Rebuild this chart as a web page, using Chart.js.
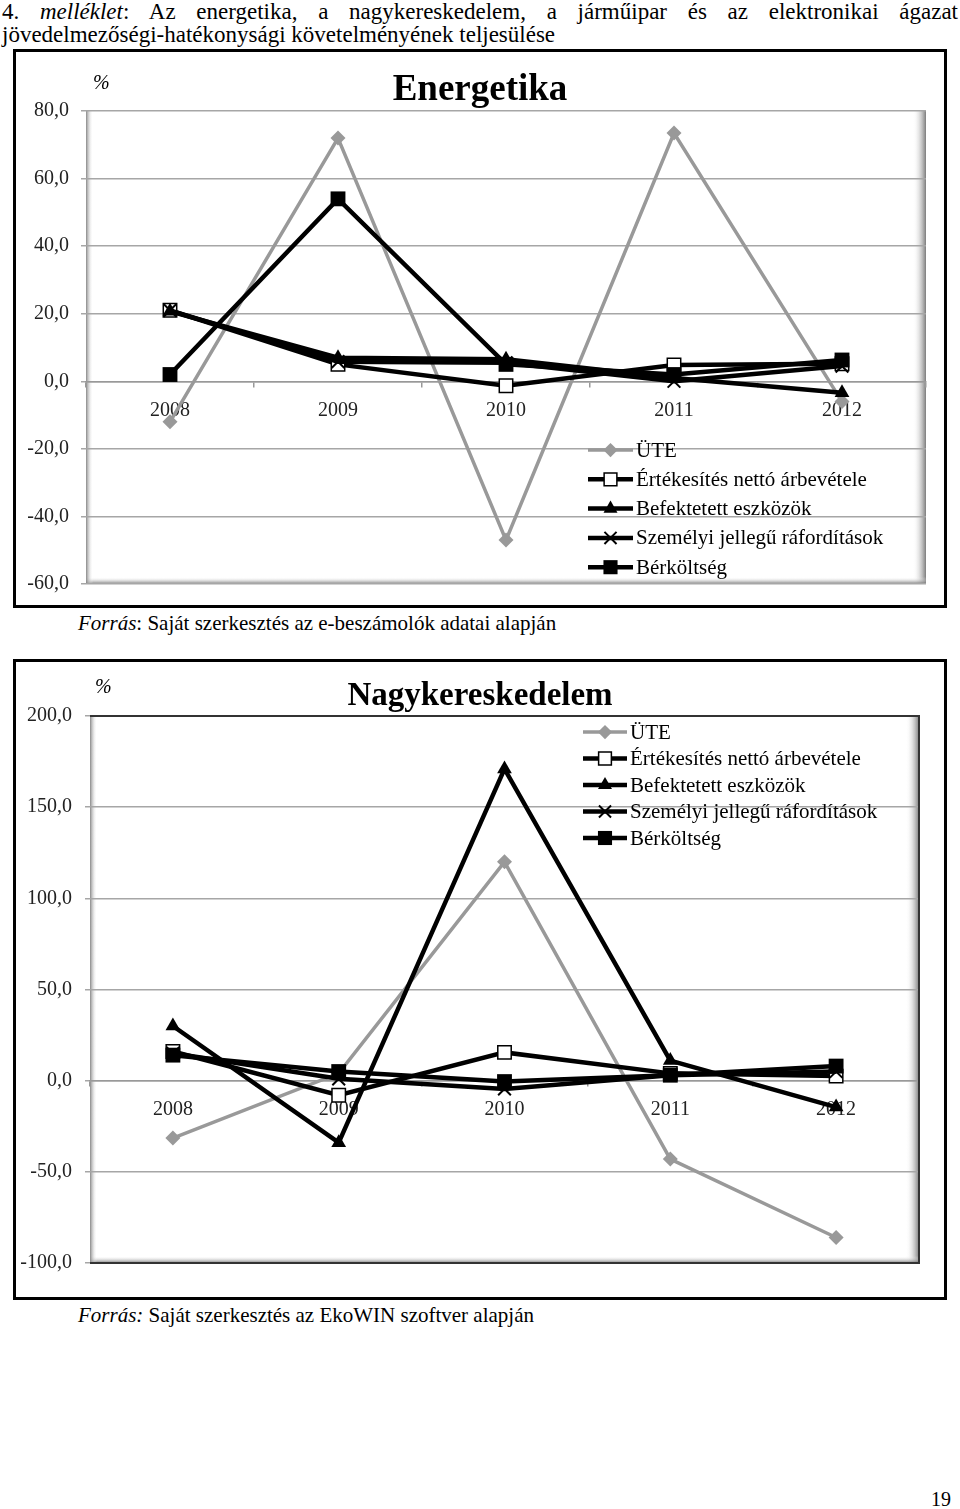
<!DOCTYPE html>
<html><head><meta charset="utf-8">
<script src="https://cdn.jsdelivr.net/npm/chart.js@4/dist/chart.umd.min.js"></script>
<style>
html,body{margin:0;padding:0;background:#fff;}
body{width:960px;height:1509px;position:relative;overflow:hidden;font-family:'Liberation Serif','Times New Roman',serif;color:#000;}
.abs{position:absolute;white-space:nowrap;}
.box{position:absolute;border:3px solid #000;box-sizing:border-box;pointer-events:none;}
canvas{position:absolute;}
</style></head><body>
<div class="abs" style="left:2px;top:0;width:956px;font-size:23px;line-height:23px;text-align:justify;text-align-last:justify;white-space:normal">4. <i>melléklet</i>: Az energetika, a nagykereskedelem, a járműipar és az elektronikai ágazat</div>
<div class="abs" style="left:2px;top:23px;font-size:23px;line-height:23px">jövedelmezőségi-hatékonysági követelményének teljesülése</div>

<canvas id="c1" width="934" height="559" style="left:13px;top:49px;width:934px;height:559px"></canvas>
<div class="box" style="left:13px;top:49px;width:934px;height:559px"></div>
<div class="abs" style="left:0;width:960px;text-align:center;top:69px;font-size:37px;line-height:37px;font-weight:bold">Energetika</div>
<div class="abs" style="left:93px;top:72px;font-size:20px;line-height:20px;font-style:italic">%</div>
<div class="abs" style="left:78px;top:612px;font-size:21px;line-height:22px"><i>Forrás</i>: Saját szerkesztés az e-beszámolók adatai alapján</div>

<canvas id="c2" width="934" height="641" style="left:13px;top:659px;width:934px;height:641px"></canvas>
<div class="box" style="left:13px;top:659px;width:934px;height:641px"></div>
<div class="abs" style="left:0;width:960px;text-align:center;top:678px;font-size:33px;line-height:33px;font-weight:bold">Nagykereskedelem</div>
<div class="abs" style="left:95px;top:676px;font-size:20px;line-height:20px;font-style:italic">%</div>
<div class="abs" style="left:78px;top:1304px;font-size:21px;line-height:22px"><i>Forrás:</i> Saját szerkesztés az EkoWIN szoftver alapján</div>

<div class="abs" style="left:931px;top:1489px;font-size:20px;line-height:20px">19</div>

<script>
// ---- data ----
const years = ['2008', '2009', '2010', '2011', '2012'];
const seriesNames = ['ÜTE', 'Értékesítés nettó árbevétele', 'Befektetett eszközök', 'Személyi jellegű ráfordítások', 'Bérköltség'];

const energUTE          = [-12, 72, -47, 73.5, -6];
const energErtekesites  = [21, 5, -1.3, 4.8, 5.2];
const energBefektetett  = [20.7, 7, 6.5, 1, -3.4];
const energSzemelyi     = [21, 5.8, 5.5, 0, 4.5];
const energBerkoltseg   = [2, 54, 5, 2, 6.3];
const energYTicks       = [-60, -40, -20, 0, 20, 40, 60, 80];

const nagyUTE           = [-31.5, 4, 120, -43, -86];
const nagyErtekesites   = [16, -8, 15.5, 4, 2.5];
const nagyBefektetett   = [30, -34, 171, 11, -14.5];
const nagySzemelyi      = [15, 1, -4.5, 3, 5];
const nagyBerkoltseg    = [14, 5, -0.5, 3, 8];
const nagyYTicks        = [-100, -50, 0, 50, 100, 150, 200];

// ---- helpers ----
const FONT = "'Liberation Serif','Times New Roman',serif";
Chart.defaults.font.family = FONT;

function fmt(v){ return Number(v).toFixed(1).replace('.', ','); }

function drawMarker(ctx, style, x, y, r, fill, stroke, bw){
  ctx.save();
  ctx.fillStyle = fill; ctx.strokeStyle = stroke; ctx.lineWidth = bw;
  ctx.beginPath();
  if (style === 'rect') {
    const s = r * Math.SQRT1_2;
    ctx.rect(x - s, y - s, 2 * s, 2 * s);
    ctx.fill(); if (bw) ctx.stroke();
  } else if (style === 'rectRot') {
    ctx.moveTo(x - r, y); ctx.lineTo(x, y - r); ctx.lineTo(x + r, y); ctx.lineTo(x, y + r); ctx.closePath();
    ctx.fill(); if (bw) ctx.stroke();
  } else if (style === 'triangle') {
    let rad = 0;
    ctx.moveTo(x + Math.sin(rad) * r, y - Math.cos(rad) * r);
    rad += 2 * Math.PI / 3;
    ctx.lineTo(x + Math.sin(rad) * r, y - Math.cos(rad) * r);
    rad += 2 * Math.PI / 3;
    ctx.lineTo(x + Math.sin(rad) * r, y - Math.cos(rad) * r);
    ctx.closePath();
    ctx.fill(); if (bw) ctx.stroke();
  } else if (style === 'crossRot') {
    const s = r * Math.SQRT1_2;
    ctx.moveTo(x - s, y - s); ctx.lineTo(x + s, y + s);
    ctx.moveTo(x + s, y - s); ctx.lineTo(x - s, y + s);
    ctx.stroke();
  }
  ctx.restore();
}

const wallPlugin = {
  id: 'wall',
  beforeDraw(chart, args, o){
    const {ctx, chartArea: a} = chart;
    ctx.save();
    let g = ctx.createLinearGradient(a.right - 13, 0, a.right, 0);
    g.addColorStop(0, 'rgba(255,255,255,0)');
    g.addColorStop(1, 'rgba(110,110,110,0.9)');
    ctx.fillStyle = g; ctx.fillRect(a.right - 13, a.top, 13, a.bottom - a.top);
    g = ctx.createLinearGradient(0, a.bottom - 7, 0, a.bottom);
    g.addColorStop(0, 'rgba(255,255,255,0)');
    g.addColorStop(1, 'rgba(110,110,110,0.9)');
    ctx.fillStyle = g; ctx.fillRect(a.left, a.bottom - 7, a.right - a.left, 7);
    g = ctx.createLinearGradient(a.left, 0, a.left + 7, 0);
    g.addColorStop(0, 'rgba(130,130,130,0.95)');
    g.addColorStop(1, 'rgba(255,255,255,0)');
    ctx.fillStyle = g; ctx.fillRect(a.left, a.top, 7, a.bottom - a.top);
    ctx.restore();
  },
  beforeDatasetsDraw(chart, args, o){
    if (!o.frame) return;
    const {ctx, chartArea: a} = chart;
    ctx.save();
    ctx.strokeStyle = o.frame; ctx.lineWidth = 2;
    ctx.beginPath();
    ctx.moveTo(a.left, a.top); ctx.lineTo(a.right, a.top); ctx.lineTo(a.right, a.bottom); ctx.lineTo(a.left, a.bottom);
    ctx.stroke();
    ctx.restore();
  }
};

const legendPlugin = {
  id: 'customLegend',
  afterDraw(chart, args, o){
    const ctx = chart.ctx;
    chart.data.datasets.forEach((ds, i) => {
      const y = o.y + i * o.spacing;
      ctx.save();
      ctx.strokeStyle = ds.borderColor; ctx.lineWidth = ds.borderWidth;
      ctx.beginPath(); ctx.moveTo(o.x, y); ctx.lineTo(o.x + o.len, y); ctx.stroke();
      drawMarker(ctx, ds.pointStyle, o.x + o.len / 2, y, ds.pointRadius * o.scale,
                 ds.pointBackgroundColor, ds.pointBorderColor, ds.pointBorderWidth);
      ctx.fillStyle = '#000'; ctx.font = o.font; ctx.textBaseline = 'middle'; ctx.textAlign = 'left';
      ctx.fillText(ds.label, o.x + o.len + 3, y + 1);
      ctx.restore();
    });
  }
};

function makeDatasets(vals, lw){
  const styles = [
    {pointStyle: 'rectRot', pointRadius: 7.5, pointBackgroundColor: '#999', pointBorderColor: '#999', pointBorderWidth: 0, borderColor: '#999', borderWidth: 3.5, order: 5},
    {pointStyle: 'rect', pointRadius: 9.5, pointBackgroundColor: '#fff', pointBorderColor: '#000', pointBorderWidth: 1.5, borderColor: '#000', borderWidth: lw, order: 4},
    {pointStyle: 'triangle', pointRadius: 8.5, pointBackgroundColor: '#000', pointBorderColor: '#000', pointBorderWidth: 0, borderColor: '#000', borderWidth: lw, order: 3},
    {pointStyle: 'crossRot', pointRadius: 9, pointBackgroundColor: '#000', pointBorderColor: '#000', pointBorderWidth: 2, borderColor: '#000', borderWidth: lw, order: 2},
    {pointStyle: 'rect', pointRadius: 10.5, pointBackgroundColor: '#000', pointBorderColor: '#000', pointBorderWidth: 0, borderColor: '#000', borderWidth: lw, order: 1}
  ];
  return vals.map((v, i) => Object.assign({label: seriesNames[i], data: v, tension: 0, fill: false, pointHoverRadius: 0, clip: false}, styles[i]));
}

function makeChart(id, vals, yTicks, cfg){
  return new Chart(document.getElementById(id), {
    type: 'line',
    data: {labels: years, datasets: makeDatasets(vals, 4.5)},
    plugins: [wallPlugin, legendPlugin],
    options: {
      responsive: false, animation: false, devicePixelRatio: 1,
      layout: {padding: cfg.padding},
      plugins: {
        legend: {display: false}, tooltip: {enabled: false},
        wall: {frame: cfg.frame},
        customLegend: cfg.legend
      },
      scales: {
        x: {
          type: 'category', position: {y: 0}, offset: true,
          grid: {display: true, drawOnChartArea: false, drawTicks: true, tickLength: 5, color: '#999', lineWidth: 1.5, offset: true},
          border: {display: true, color: '#999', width: 1.5},
          ticks: {font: {size: 20, family: FONT}, color: '#222', padding: 12, maxRotation: 0, autoSkip: false}
        },
        y: {
          min: yTicks[0], max: yTicks[yTicks.length - 1],
          afterBuildTicks: s => { s.ticks = yTicks.map(v => ({value: v})); },
          afterFit: s => { s.width = cfg.yWidth; },
          grid: {color: '#a6a6a6', lineWidth: 1.5, drawTicks: true, tickLength: 5},
          border: {display: false},
          ticks: {font: {size: 20, family: FONT}, color: '#222', padding: cfg.yPad, callback: v => fmt(v)}
        }
      }
    }
  });
}

makeChart('c1', [energUTE, energErtekesites, energBefektetett, energSzemelyi, energBerkoltseg], energYTicks, {
  padding: {left: 0, top: 62, right: 21, bottom: 23}, yWidth: 73, yPad: 12, frame: null,
  legend: {x: 575, y: 401, spacing: 29.3, len: 45, scale: 0.95, font: "21px " + FONT}
});
makeChart('c2', [nagyUTE, nagyErtekesites, nagyBefektetett, nagySzemelyi, nagyBerkoltseg], nagyYTicks, {
  padding: {left: 0, top: 57, right: 28, bottom: 37}, yWidth: 77, yPad: 13, frame: '#333',
  legend: {x: 570, y: 73, spacing: 26.5, len: 44, scale: 0.95, font: "21px " + FONT}
});
</script>
</body></html>
